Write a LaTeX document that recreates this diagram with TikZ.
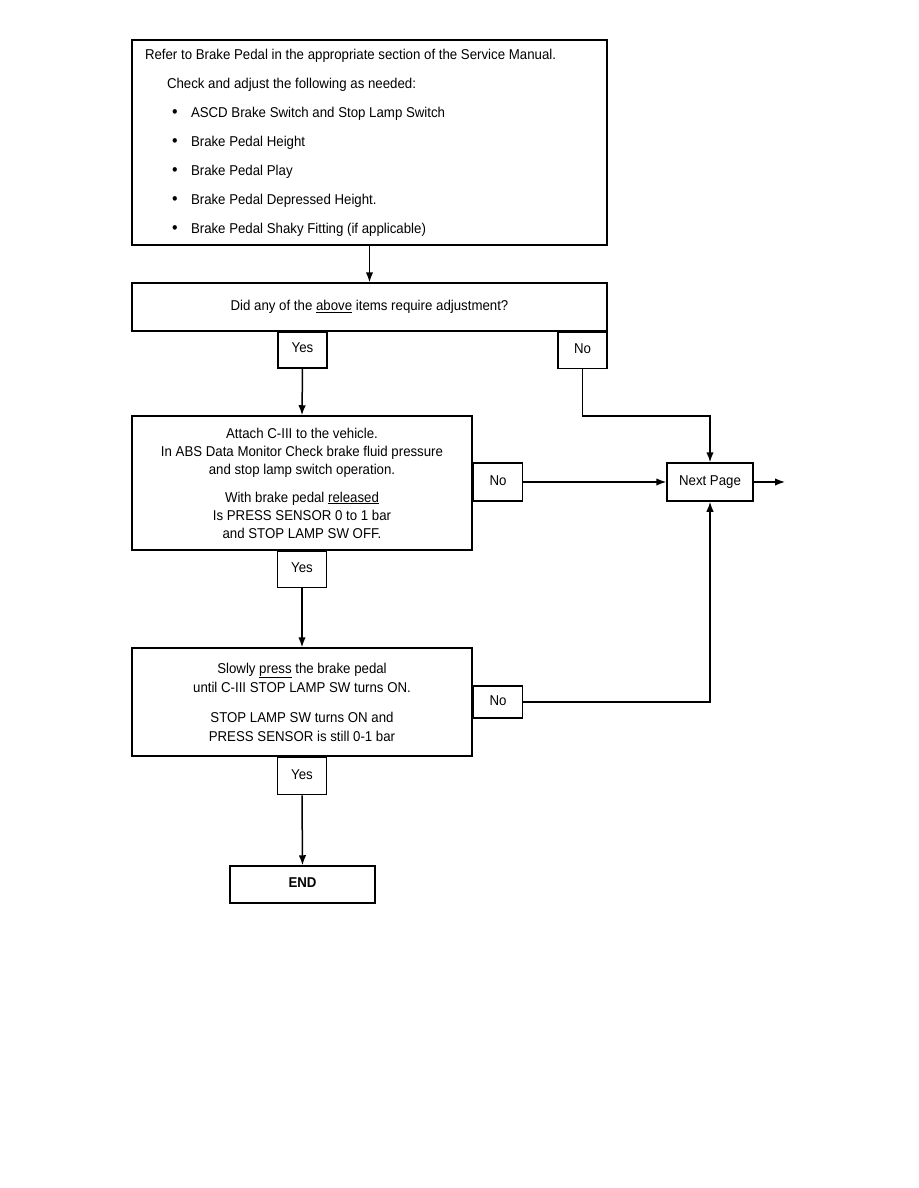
\documentclass[tikz,border=0pt]{standalone}
\usepackage{fontspec}
\setmainfont{Liberation Sans}[FakeStretch=0.93]
\usepackage{tikz}
\usetikzlibrary{arrows.meta, positioning, calc}
\tikzset{
	box/.style={rectangle, draw, line width=1.5pt, inner sep=0pt, align=center},
	answer/.style={box, minimum width=49pt, minimum height=36pt, text height=11pt, text depth=5pt},
	line/.style={draw, line width=1.5pt, -{Latex[length=10pt,width=7.5pt]}}
}
\newcommand{\bul}[1]{\hspace*{27pt}\makebox[19pt][l]{\fontsize{17pt}{29pt}\selectfont\textbullet}#1}

\begin{document}
\begin{tikzpicture}[x=1pt, y=-1pt, font=\fontsize{14.25pt}{18pt}\selectfont]
		\useasboundingbox (0,0) rectangle (918,1188);
		% first check
		\node[box, minimum width=475pt, minimum height=205pt, text width=449pt, align=flush left,
			font=\fontsize{14.25pt}{29pt}\selectfont] (refer) at (369.5,142.5)
			{Refer to Brake Pedal in the appropriate section of the Service Manual.\\
			\hspace*{22pt}Check and adjust the following as needed:\\
			\bul{ASCD Brake Switch and Stop Lamp Switch}\\
			\bul{Brake Pedal Height}\\
			\bul{Brake Pedal Play}\\
			\bul{Brake Pedal Depressed Height.}\\
			\bul{Brake Pedal Shaky Fitting (if applicable)}};
		\node[box, minimum width=475pt, minimum height=48pt] (adjust) at (369.5,307)
			{Did any of the \underline{above} items require adjustment?};
		\node[answer, anchor=north] (yesA) at (302.5,331) {Yes};
		\node[answer, anchor=north east] (noA) at (adjust.south east) {No};
		% data monitor
		\node[box, minimum width=340pt, minimum height=134pt] (monitor) at (302,483)
			{Attach C-III to the vehicle.\\
			In ABS Data Monitor Check brake fluid pressure\\
			and stop lamp switch operation.\\[10pt]
			With brake pedal \underline{released}\\
			Is PRESS SENSOR 0 to 1 bar\\
			and STOP LAMP SW OFF.};
		\node[answer, minimum height=38pt, anchor=west] (noB) at (monitor.east |- 0,482) {No};
		\node[answer, anchor=north] (yesB) at (monitor.south) {Yes};
		\node[box, minimum width=86pt, minimum height=38pt, text height=11pt, text depth=5pt]
			(next) at (710,482) {Next Page};
		\coordinate (out) at (785,482);
		% press pedal
		\node[box, minimum width=340pt, minimum height=108pt, font=\fontsize{14.25pt}{19pt}\selectfont]
			(press) at (302,702)
			{Slowly \underline{press} the brake pedal\\
			until C-III STOP LAMP SW turns ON.\\[11pt]
			STOP LAMP SW turns ON and\\
			PRESS SENSOR is still 0-1 bar};
		\node[answer, minimum height=32pt, anchor=west] (noC) at (press.east |- 0,702) {No};
		\node[answer, minimum height=37pt, anchor=north] (yesC) at (press.south) {Yes};
		\node[box, minimum width=145pt, minimum height=37pt, text height=11pt, text depth=5pt,
			font=\fontsize{14.25pt}{18pt}\selectfont\bfseries] (end) at (302.5,884.5) {END};
		% connectors
		\path[line] (refer.south) -- (adjust.north);
		\path[line] (yesA.south) -- (monitor.north);
		\path[line] (noA.south) |- ($(noA.south)!0.5!(next.north -| noA.south)$) -| (next.north);
		\path[line] (noB.east) -- (next.west);
		\path[line] (next.east) -- (out);
		\path[line] (yesB.south) -- (press.north);
		\path[line] (noC.east) -| (next.south);
		\path[line] (yesC.south) -- (end.north);
		\end{tikzpicture}
\end{document}
